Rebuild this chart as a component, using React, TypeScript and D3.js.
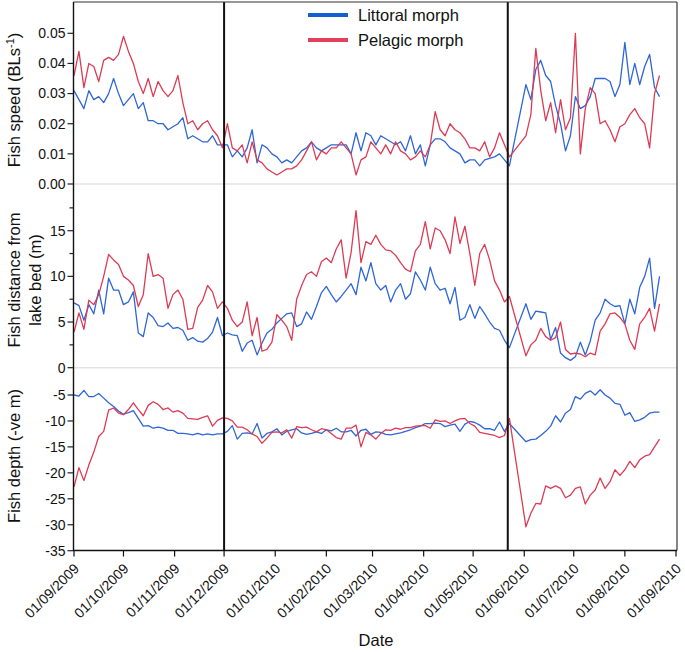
import React from "react";
import * as d3 from "d3";

// ---- sampling (every 3 days, with a logging gap late May 2010) ----
const segmentStarts = ["2009-09-01", "2010-06-02"];
const segmentCounts = [89, 28];
const stepDays = 3;

const monthTicks = [
  "2009-09-01","2009-10-01","2009-11-01","2009-12-01","2010-01-01","2010-02-01","2010-03-01",
  "2010-04-01","2010-05-01","2010-06-01","2010-07-01","2010-08-01","2010-09-01",
];
const markerDates = ["2009-12-01", "2010-05-22"];

const speedTicks = [0, 0.01, 0.02, 0.03, 0.04, 0.05];
const distTicks = [0, 5, 10, 15];
const distMinorTicks = [2.5, 7.5, 12.5, 17.5];
const depthTicks = [-35, -30, -25, -20, -15, -10, -5];

const seriesNames = ["Littoral morph", "Pelagic morph"];
const seriesColors = ["#2f66d6", "#dc3b55"];
const legendColors = ["#155fd4", "#e4405c"];

const speedLittoral = [
  0.031,0.028,0.025,0.031,0.028,0.029,0.027,0.030,0.035,0.030,0.026,0.028,0.030,0.025,0.027,0.021,0.021,0.020,0.020,0.018,0.019,0.020,0.022,0.015,0.016,0.015,0.014,0.014,0.016,0.013,0.013,
  0.013,0.009,0.011,0.009,0.012,0.018,0.007,0.013,0.012,0.010,0.009,0.007,0.008,0.007,0.009,0.011,0.012,0.014,0.012,0.011,0.012,0.013,0.013,0.013,0.013,0.010,0.017,0.011,0.017,0.016,0.013,0.016,0.015,0.014,0.013,0.014,0.011,0.016,0.010,0.013,0.006,0.013,0.015,0.015,0.014,0.012,
  0.011,0.010,0.007,0.008,0.008,0.006,0.008,0.0085,0.009,0.010,0.008,0.006,
  0.033,0.028,0.038,0.041,0.036,0.034,0.026,0.020,0.011,0.016,0.029,0.025,0.026,0.029,0.035,0.035,0.035,0.034,0.029,0.033,0.047,0.033,0.040,0.033,0.039,0.043,0.032,0.029,
];
const speedPelagic = [
  0.036,0.044,0.032,0.040,0.039,0.034,0.041,0.042,0.041,0.043,0.049,0.044,0.040,0.034,0.030,0.035,0.029,0.034,0.031,0.029,0.031,0.036,0.027,0.020,0.021,0.018,0.020,0.021,0.018,0.016,0.012,
  0.020,0.012,0.011,0.013,0.007,0.014,0.008,0.007,0.005,0.004,0.003,0.004,0.005,0.005,0.006,0.008,0.011,0.014,0.008,0.011,0.010,0.012,0.012,0.014,0.012,0.010,0.003,0.008,0.009,0.014,0.012,0.010,0.013,0.010,0.014,0.011,0.010,0.008,0.009,0.011,0.009,0.013,0.024,0.018,0.016,0.020,
  0.018,0.017,0.015,0.012,0.012,0.011,0.014,0.009,0.012,0.017,0.013,0.009,
  0.016,0.023,0.045,0.031,0.021,0.027,0.017,0.028,0.018,0.022,0.050,0.010,0.025,0.032,0.030,0.020,0.021,0.018,0.014,0.019,0.020,0.023,0.025,0.022,0.020,0.012,0.030,0.036,
];
const distLittoral = [
  7.1,6.8,5.2,6.9,5.9,8.5,5.9,9.8,8.5,8.5,6.9,7.2,8.3,3.8,3.4,6.0,5.5,4.6,4.5,4.9,4.3,4.4,4.1,3.0,3.3,2.9,2.8,3.2,3.9,5.5,3.5,
  3.8,3.6,3.5,1.8,2.7,3.0,1.4,2.7,3.8,4.2,4.9,5.4,5.9,6.0,4.5,4.8,6.1,5.3,6.7,8.2,8.9,8.0,7.2,7.8,8.5,9.2,8.0,11.0,9.5,11.5,9.2,8.5,9.0,7.2,8.5,9.2,7.5,8.1,10.5,9.6,8.5,11.0,9.2,8.5,8.7,7.0,
  8.8,5.2,5.5,6.9,5.4,6.7,5.9,5.0,4.3,4.1,3.0,2.2,
  7.0,5.3,6.2,6.1,6.0,3.1,4.4,1.6,1.1,0.8,1.2,2.8,1.4,2.9,5.2,6.0,7.5,7.0,6.7,6.8,4.8,7.5,5.9,8.8,10.0,12.0,6.5,10.0,
];
const distPelagic = [
  3.9,6.0,4.2,7.4,6.9,8.0,10.0,12.4,11.8,11.3,10.0,9.6,9.0,6.7,8.0,12.5,10.0,10.2,9.8,6.5,8.0,8.5,7.5,4.2,4.3,6.6,7.4,9.0,8.3,6.5,7.2,
  6.5,5.2,4.5,5.0,7.2,3.5,5.5,1.8,2.0,2.8,5.8,5.2,4.5,3.0,7.5,9.0,10.2,10.5,10.0,11.6,12.0,11.5,13.0,14.0,9.8,12.6,17.2,11.5,13.8,13.5,14.5,13.5,12.9,12.8,12.3,11.5,10.8,10.5,12.8,13.5,16.0,13.0,15.3,15.0,14.0,12.5,
  16.5,13.6,15.5,12.5,9.0,12.5,13.5,11.8,9.5,8.5,7.2,7.8,
  1.3,2.5,3.0,4.3,3.4,3.0,3.3,5.0,2.0,1.5,1.6,1.5,1.2,1.6,1.4,4.0,4.8,5.9,6.0,5.5,4.8,3.0,2.0,4.8,5.5,6.5,4.0,7.0,
];
const depthLittoral = [
  -5.0,-5.2,-4.1,-5.3,-5.3,-4.7,-5.6,-6.5,-7.2,-8.1,-8.7,-8.4,-8.0,-9.5,-11.0,-10.9,-11.4,-11.2,-11.4,-11.8,-11.8,-12.4,-12.4,-12.5,-12.7,-12.4,-12.7,-12.5,-12.7,-12.5,-12.5,
  -12.0,-10.9,-13.5,-12.4,-12.3,-12.5,-10.5,-13.3,-12.4,-12.1,-11.5,-12.7,-12.0,-11.7,-11.5,-12.3,-12.6,-12.4,-12.1,-12.4,-11.7,-11.9,-11.4,-12.1,-12.1,-11.8,-12.9,-11.8,-11.6,-12.6,-12.1,-12.2,-12.6,-12.7,-12.5,-12.3,-12.0,-11.7,-11.3,-11.0,-10.5,-10.5,-10.4,-10.5,-11.1,-10.8,
  -10.6,-12.0,-10.6,-10.1,-10.3,-10.8,-11.5,-11.5,-11.8,-10.2,-12.0,-10.5,
  -14.0,-13.6,-13.5,-12.8,-12.0,-11.0,-9.0,-10.2,-8.5,-7.8,-5.3,-5.8,-4.7,-4.2,-5.0,-4.0,-5.0,-5.6,-6.6,-6.8,-8.9,-8.4,-10.1,-9.8,-9.3,-8.5,-8.3,-8.3,
];
const depthPelagic = [
  -22.7,-19.0,-21.5,-18.5,-16.0,-13.0,-12.0,-7.9,-7.5,-8.5,-8.8,-7.8,-6.5,-7.8,-9.0,-7.0,-6.3,-6.8,-7.8,-7.5,-8.3,-8.0,-8.5,-9.5,-9.6,-9.7,-9.3,-9.0,-11.0,-9.9,-9.4,
  -9.5,-10.0,-11.2,-11.2,-11.7,-12.5,-13.0,-14.3,-13.3,-12.2,-12.1,-12.3,-11.7,-13.3,-11.1,-11.3,-11.2,-11.7,-12.1,-11.5,-11.7,-12.4,-13.2,-13.5,-11.4,-11.4,-10.8,-15.0,-12.2,-12.7,-13.5,-12.4,-11.7,-11.8,-11.4,-11.6,-11.3,-11.3,-11.0,-10.9,-10.9,-11.4,-9.8,-10.1,-10.0,-10.5,
  -10.0,-9.6,-9.5,-10.5,-11.0,-12.2,-12.4,-12.6,-12.8,-13.2,-12.8,-9.5,
  -30.4,-27.8,-25.9,-26.0,-22.5,-23.0,-22.5,-23.0,-24.8,-24.3,-23.0,-22.7,-26.0,-24.3,-23.3,-21.0,-23.0,-21.7,-19.4,-20.5,-19.4,-17.8,-19.0,-17.5,-16.8,-16.5,-15.0,-13.5,
];

const parse = (s: string) => new Date(s + "T00:00:00Z");
const sampleDates: Date[] = [];
segmentStarts.forEach((s, i) => {
  const start = parse(s);
  for (let k = 0; k < segmentCounts[i]; k++) sampleDates.push(d3.utcDay.offset(start, k * stepDays));
});

const FONT = "'Liberation Sans', Arial, Helvetica, sans-serif";
const L = 73.5, R = 677, T = 2, B = 550.5;

export default function App() {
  const x = d3.scaleUtc().domain([parse("2009-09-01"), parse("2010-09-01")]).range([74, 676]);
  const ySpeed = d3.scaleLinear().domain([0, 0.05]).range([184, 33.3]);
  const yDist = d3.scaleLinear().domain([0, 15]).range([367.7, 230.7]);
  const yDepth = d3.scaleLinear().domain([-35, -5]).range([550.7, 395]);

  const mk = (y: d3.ScaleLinear<number, number>, vals: number[]) =>
    d3.line<number>().x((_, i) => x(sampleDates[i])).y((v) => y(v))(vals) || "";

  const panels = [
    { y: ySpeed, data: [speedLittoral, speedPelagic] },
    { y: yDist, data: [distLittoral, distPelagic] },
    { y: yDepth, data: [depthLittoral, depthPelagic] },
  ];

  const yTick = (yy: number, label: string | null, key: string, len = 6) => (
    <g key={key}>
      <line x1={L - len} x2={L} y1={yy} y2={yy} stroke="#222" strokeWidth={1.2} />
      {label !== null && (
        <text x={L - 8} y={yy} dy="0.35em" textAnchor="end" fontSize={14} fill="#111">{label}</text>
      )}
    </g>
  );

  return (
    <svg width={685} height={652} style={{ position: "absolute", left: 0, top: 0, background: "#fff" }} fontFamily={FONT}>
      {/* panel separators */}
      <line x1={L} x2={R} y1={ySpeed(0)} y2={ySpeed(0)} stroke="#e3e3e3" strokeWidth={1.5} />
      <line x1={L} x2={R} y1={yDist(0)} y2={yDist(0)} stroke="#e3e3e3" strokeWidth={1.5} />

      {/* data */}
      {panels.map((p, pi) =>
        p.data.map((vals, si) => (
          <path key={`${pi}-${si}`} d={mk(p.y, vals)} fill="none" stroke={seriesColors[si]} strokeWidth={1.3} strokeLinejoin="round" />
        ))
      )}

      {/* marker lines */}
      {markerDates.map((d) => (
        <line key={d} x1={x(parse(d))} x2={x(parse(d))} y1={T} y2={B} stroke="#111" strokeWidth={2} />
      ))}

      {/* frame */}
      <line x1={L} x2={R} y1={T} y2={T} stroke="#333" strokeWidth={1.2} />
      <line x1={R} x2={R} y1={T} y2={B} stroke="#333" strokeWidth={1.2} />
      <line x1={L} x2={L} y1={T} y2={B + 0.5} stroke="#111" strokeWidth={1.4} />
      <line x1={L} x2={R} y1={B} y2={B} stroke="#111" strokeWidth={1.4} />

      {/* y ticks */}
      {speedTicks.map((t) => yTick(ySpeed(t), t.toFixed(2), `s${t}`))}
      {distTicks.map((t) => yTick(yDist(t), String(t), `d${t}`))}
      {distMinorTicks.map((t) => yTick(yDist(t), null, `dm${t}`, 4))}
      {depthTicks.map((t) => yTick(yDepth(t), String(t), `p${t}`))}

      {/* x ticks */}
      {monthTicks.map((m) => {
        const xx = x(parse(m));
        const [yy, mm, dd] = m.split("-");
        return (
          <g key={m}>
            <line x1={xx} x2={xx} y1={B} y2={B + 6} stroke="#111" strokeWidth={1.2} />
            <text transform={`translate(${xx + 6},${B + 19}) rotate(-45)`} textAnchor="end" fontSize={14} fill="#111">
              {`${dd}/${mm}/${yy}`}
            </text>
          </g>
        );
      })}

      {/* axis titles */}
      <text transform="translate(20,100) rotate(-90)" textAnchor="middle" fontSize={16.5} fill="#111">
        Fish speed (BLs<tspan dy={-6} fontSize={11}>-1</tspan><tspan dy={6}>)</tspan>
      </text>
      <text transform="translate(20,280) rotate(-90)" textAnchor="middle" fontSize={16.5} fill="#111">Fish distance from</text>
      <text transform="translate(41,280) rotate(-90)" textAnchor="middle" fontSize={16.5} fill="#111">lake bed (m)</text>
      <text transform="translate(20,456) rotate(-90)" textAnchor="middle" fontSize={16.5} fill="#111">Fish depth (-ve m)</text>
      <text x={376} y={646} textAnchor="middle" fontSize={16.5} fill="#111">Date</text>

      {/* legend */}
      {seriesNames.map((n, i) => (
        <g key={n}>
          <line x1={308} x2={348} y1={15 + i * 25} y2={15 + i * 25} stroke={legendColors[i]} strokeWidth={4} />
          <text x={358} y={15 + i * 25} dy="0.35em" fontSize={16.5} fill="#111">{n}</text>
        </g>
      ))}
    </svg>
  );
}
